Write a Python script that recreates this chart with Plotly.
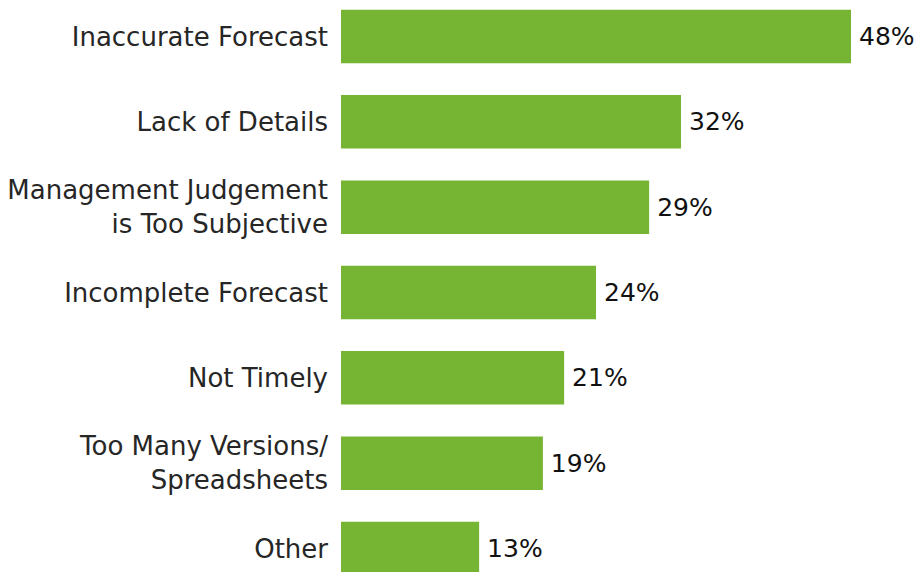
import plotly.graph_objects as go

categories = [
    "Inaccurate Forecast",
    "Lack of Details",
    "Management Judgement<br>is Too Subjective",
    "Incomplete Forecast",
    "Not Timely",
    "Too Many Versions/<br>Spreadsheets",
    "Other",
]
values = [48, 32, 29, 24, 21, 19, 13]

fig = go.Figure(
    go.Bar(
        x=values,
        y=list(range(len(categories))),
        orientation="h",
        marker=dict(color="#76b533", line=dict(width=0)),
        width=0.627,
        text=[f"\u2009{v}%" for v in values],
        textposition="outside",
        constraintext="none",
        textfont=dict(family="DejaVu Sans", size=25, color="#111111"),
        cliponaxis=False,
        hoverinfo="skip",
    )
)

fig.update_layout(
    width=917,
    height=572,
    margin=dict(l=341, r=0, t=0, b=0),
    plot_bgcolor="white",
    paper_bgcolor="white",
    showlegend=False,
    font=dict(family="DejaVu Sans", size=26, color="#262626"),
)
fig.update_xaxes(range=[0, 54.21], visible=False, automargin=False)
fig.update_yaxes(
    range=[6.275, -0.428],
    tickvals=list(range(len(categories))),
    ticktext=categories,
    showgrid=False,
    zeroline=False,
    showline=False,
    ticks="",
    ticklabelstandoff=12,
    automargin=False,
)

# drop the default body margin so the figure fills the window
fig.write_html(
    "out.html",
    config={"displayModeBar": False},
    post_script="document.body.style.margin='0';document.body.style.overflow='hidden';",
)
